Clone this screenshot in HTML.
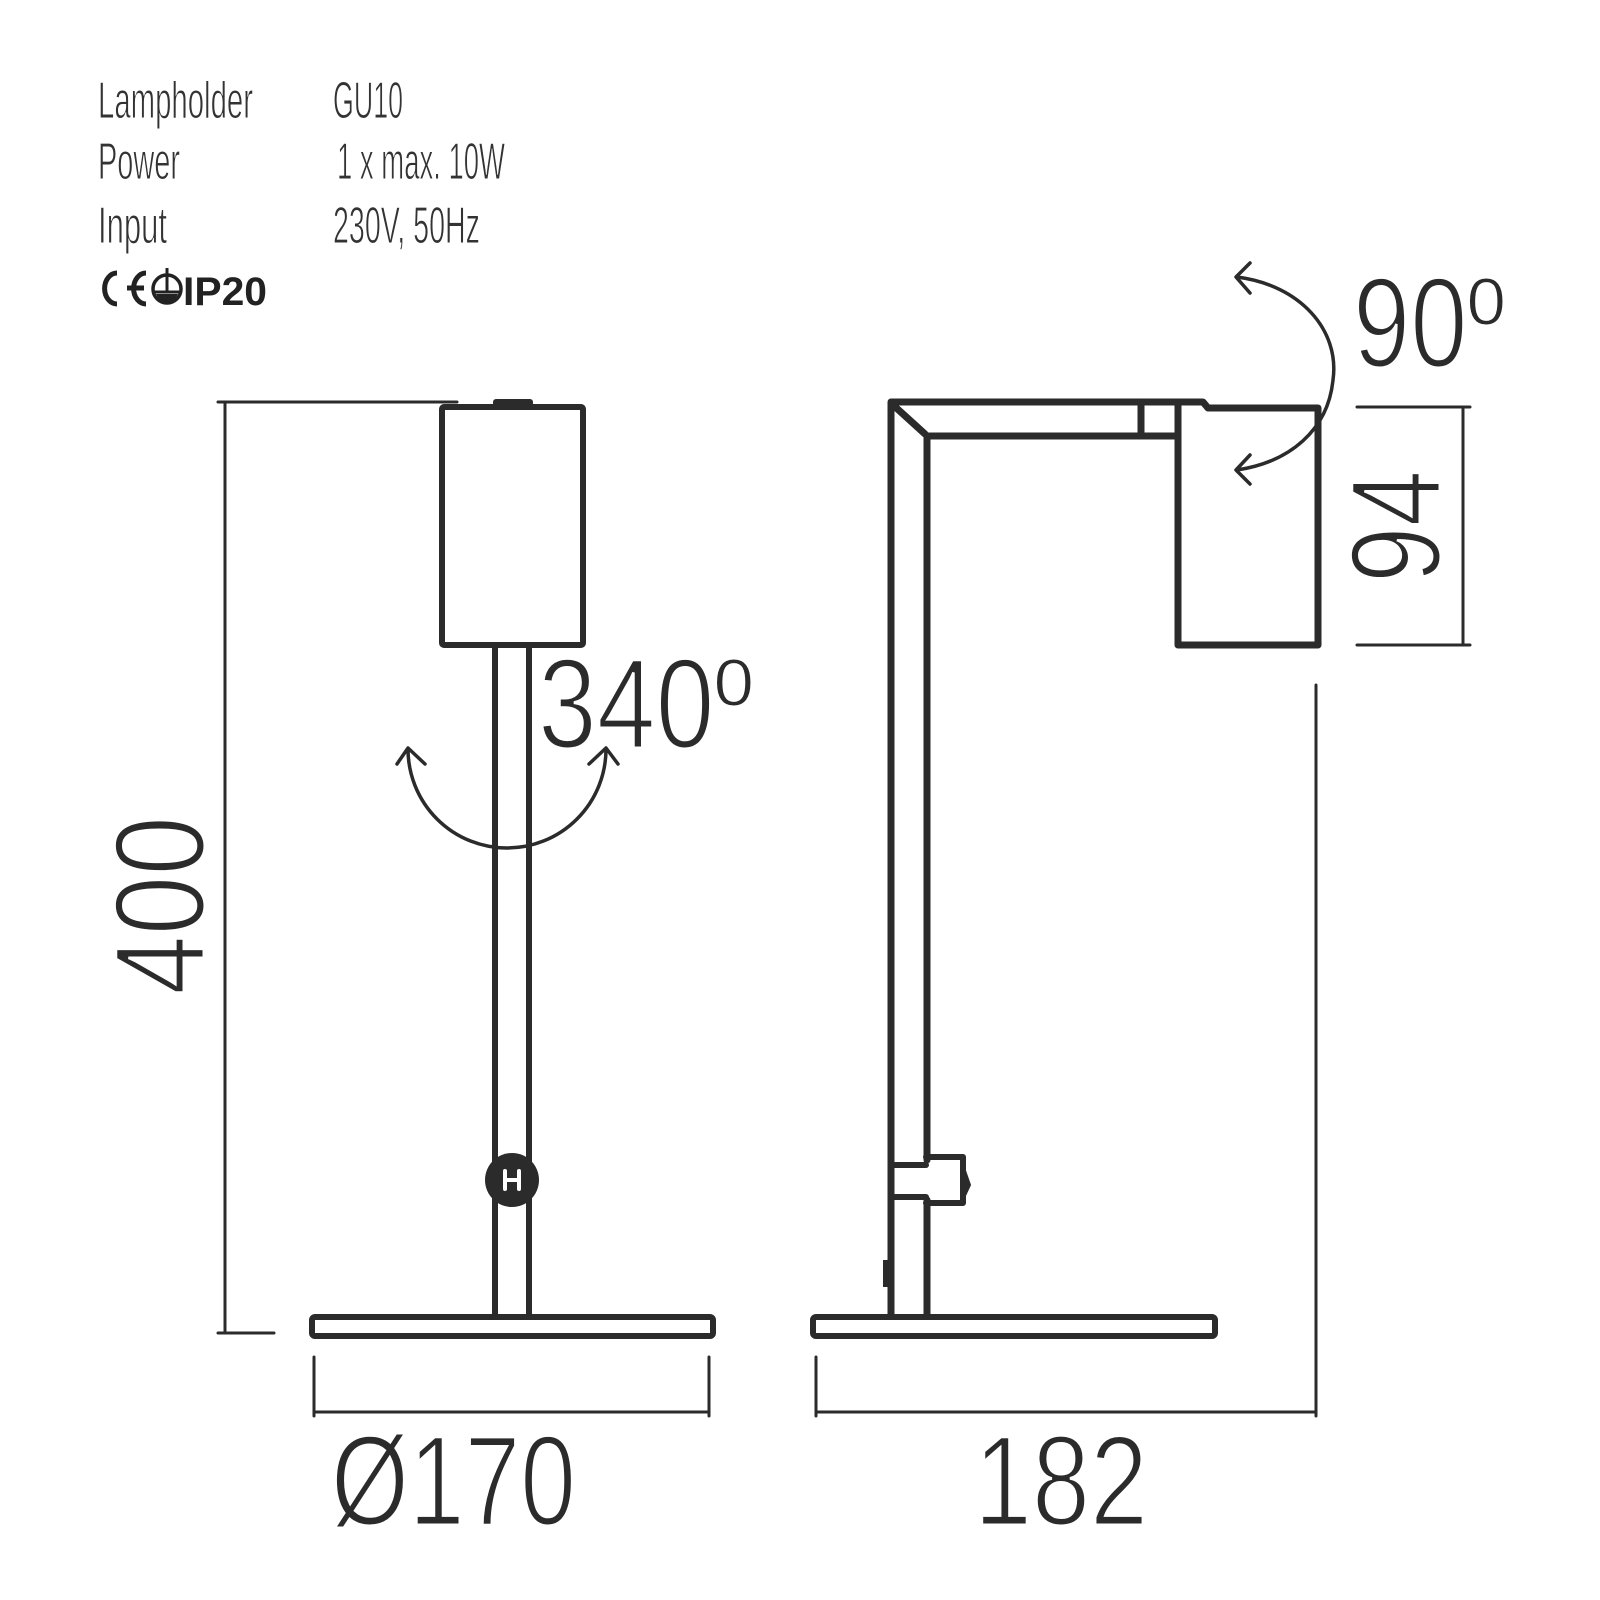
<!DOCTYPE html>
<html><head><meta charset="utf-8"><style>html,body{margin:0;padding:0;background:#fff}svg{display:block}</style></head>
<body>
<svg width="1600" height="1600" viewBox="0 0 1600 1600" xmlns="http://www.w3.org/2000/svg" font-family="Liberation Sans, sans-serif" fill="#2b2b2b">
<!-- header text -->
<g font-size="52" fill="#333" stroke="#fff" stroke-width="1">
<text x="98" y="118" textLength="155" lengthAdjust="spacingAndGlyphs">Lampholder</text>
<text x="98" y="179" textLength="82" lengthAdjust="spacingAndGlyphs">Power</text>
<text x="98" y="243" textLength="69" lengthAdjust="spacingAndGlyphs">Input</text>
<text x="333" y="118" textLength="70" lengthAdjust="spacingAndGlyphs">GU10</text>
<text x="337" y="179" textLength="168" lengthAdjust="spacingAndGlyphs">1 x max. 10W</text>
<text x="333" y="243" textLength="147" lengthAdjust="spacingAndGlyphs">230V, 50Hz</text>
</g>
<!-- icons -->
<g fill="none" stroke="#222" stroke-width="5">
<path d="M117,273 A12,15 0 1 0 117,304"/>
<path d="M146,273 A12,15 0 1 0 146,304 M127,288 H144"/>
<circle cx="167" cy="289" r="14" stroke-width="3.5"/>
<path d="M167,268 V292 M154,292 H180" stroke-width="3"/>
</g>
<path d="M156,294 H178 L174,302 H160 Z" fill="#222"/>
<text x="183" y="305" font-size="40" font-weight="bold" fill="#222" textLength="84" lengthAdjust="spacingAndGlyphs">IP20</text>

<g fill="none" stroke="#2b2b2b" stroke-linejoin="round" stroke-linecap="round">
<!-- LEFT LAMP -->
<g stroke-width="6">
<rect x="442" y="407" width="141" height="238" rx="2"/>
<line x1="495" y1="645" x2="495" y2="1315"/>
<line x1="529" y1="645" x2="529" y2="1315"/>
<rect x="312" y="1317" width="401" height="19" rx="3"/>
</g>
<rect x="493" y="399" width="40" height="9" rx="3" fill="#2b2b2b" stroke="none"/>
<circle cx="512" cy="1180" r="27" fill="#2b2b2b" stroke="none"/>
<path d="M505,1171 V1189 M519,1171 V1189 M505,1180 H519" stroke="#fff" stroke-width="4" stroke-linecap="round"/>
<!-- dims left -->
<g stroke-width="3">
<line x1="218" y1="402" x2="457" y2="402"/>
<line x1="225" y1="402" x2="225" y2="1333"/>
<line x1="218" y1="1333" x2="274" y2="1333"/>
<line x1="314" y1="1357" x2="314" y2="1416"/>
<line x1="709" y1="1357" x2="709" y2="1416"/>
<line x1="314" y1="1412" x2="709" y2="1412"/>
</g>
<!-- 340 arc -->
<g stroke-width="3.5">
<path d="M408,749 A99,99 0 0 0 606,749"/>
<path d="M397,764 L408,748 L425,764"/>
<path d="M589,764 L606,748 L618,764"/>
</g>

<!-- RIGHT LAMP -->
<g stroke-width="7">
<path d="M891,1315 V402 H1203 L1208,408 H1318 V645 H1178 V402"/>
<path d="M927,1160 V436 H1178"/>
<path d="M927,1200 V1315"/>
<line x1="892" y1="404" x2="925" y2="434"/>
<line x1="1141" y1="402" x2="1141" y2="436"/>
</g>
<g stroke-width="6">
<path d="M926,1157 H963 V1203 H926"/>
<line x1="892" y1="1165" x2="926" y2="1165"/>
<line x1="892" y1="1197" x2="926" y2="1197"/>
<rect x="813" y="1317" width="402" height="19" rx="3"/>
</g>
<path d="M963,1165 L970,1185 L963,1200 Z" fill="#2b2b2b" stroke-width="2"/>
<rect x="883" y="1260" width="6" height="27" fill="#2b2b2b" stroke="none"/>
<!-- dims right -->
<g stroke-width="3">
<line x1="816" y1="1357" x2="816" y2="1416"/>
<line x1="1316" y1="685" x2="1316" y2="1416"/>
<line x1="816" y1="1412" x2="1316" y2="1412"/>
<line x1="1357" y1="407" x2="1470" y2="407"/>
<line x1="1357" y1="645" x2="1470" y2="645"/>
<line x1="1463" y1="407" x2="1463" y2="645"/>
</g>
<!-- 90 arc -->
<g stroke-width="3.5">
<path d="M1237,277 C1300,285 1340,330 1333,380 C1328,430 1290,462 1237,470"/>
<path d="M1250,263 L1236,277 L1250,293"/>
<path d="M1250,455 L1236,470 L1250,484"/>
</g>
</g>

<!-- big labels -->
<g font-size="128" fill="#2b2b2b" stroke="#fff" stroke-width="3">
<text x="538" y="748" textLength="215" lengthAdjust="spacingAndGlyphs">340º</text>
<text x="1353" y="367" textLength="152" lengthAdjust="spacingAndGlyphs">90º</text>
<text x="331" y="1525" textLength="245" lengthAdjust="spacingAndGlyphs">Ø170</text>
<text x="974" y="1525" textLength="174" lengthAdjust="spacingAndGlyphs">182</text>
<text transform="translate(204,995) rotate(-90)" textLength="179" lengthAdjust="spacingAndGlyphs">400</text>
<text transform="translate(1440,583) rotate(-90)" textLength="113" lengthAdjust="spacingAndGlyphs">94</text>
</g>
</svg>
</body></html>
